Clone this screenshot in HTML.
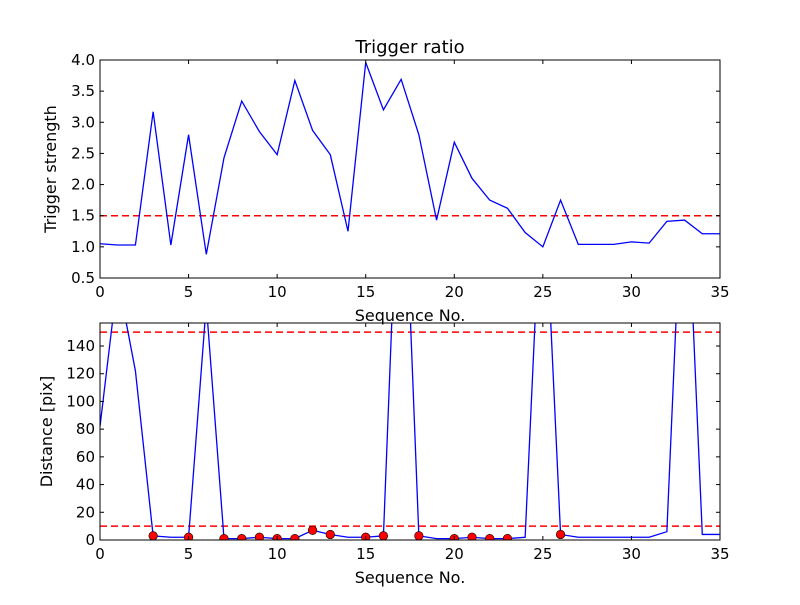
<!DOCTYPE html>
<html><head><meta charset="utf-8"><style>
body{margin:0;background:#fff;}
text{font-family:"DejaVu Sans","Liberation Sans",sans-serif;fill:#000;}
</style></head><body>
<svg id="chart" width="800" height="600" xmlns="http://www.w3.org/2000/svg">
<rect width="800" height="600" fill="#fff"/>
</svg>
<script>
const seq = [0,1,2,3,4,5,6,7,8,9,10,11,12,13,14,15,16,17,18,19,20,21,22,23,24,25,26,27,28,29,30,31,32,33,34,35];
const strength = [1.05,1.03,1.03,3.17,1.03,2.80,0.88,2.43,3.34,2.85,2.48,3.67,2.87,2.48,1.25,3.96,3.20,3.69,2.80,1.43,2.68,2.10,1.75,1.62,1.23,1.00,1.75,1.04,1.04,1.04,1.08,1.06,1.41,1.43,1.21,1.21];
const distance = [82,189,122,3,2,2,170,1,1,2,1,1,7,4,2,2,3,330,3,1,1,2,1,1,2,280,4,2,2,2,2,2,6,300,4,4];
const markerIdx = [3,5,7,8,9,10,11,12,13,15,16,18,20,21,22,23,26];
const strengthThreshold = 1.5;
const distThresholds = [10,150];
const xTicks = [0,5,10,15,20,25,30,35];
const yTicksTop = [0.5,1.0,1.5,2.0,2.5,3.0,3.5,4.0];
const yTicksBot = [0,20,40,60,80,100,120,140];

const svg = document.getElementById('chart');
const NS = 'http://www.w3.org/2000/svg';
function mk(tag, attrs, parent){const e=document.createElementNS(NS,tag);for(const k in attrs)e.setAttribute(k,attrs[k]);(parent||svg).appendChild(e);return e;}

function panel(name, top, bottom, ymin, ymax, yticks, yfmt, ylabel, title){
  const L=100,R=720;
  const g=mk('g',{});
  
  
  const sx=v=>L+(v-0)/(35-0)*(R-L);
  const sy=v=>bottom-(v-ymin)/(ymax-ymin)*(bottom-top);
  const cid='clip-'+name;
  const cp=mk('clipPath',{id:cid},g); mk('rect',{x:L,y:top,width:R-L,height:bottom-top},cp);
  return {g,sx,sy,cid,L,R,top,bottom,yticks,yfmt,ylabel,title};
}
function finish(p){
  const {g,sx,sy,L,R,top,bottom}=p;
  const fr=mk('rect',{x:L,y:top,width:R-L,height:bottom-top,fill:'none',stroke:'#000','stroke-width':1},g);
  
  
  xTicks.forEach(t=>{
    const x=sx(t);
    mk('line',{x1:x,y1:bottom,x2:x,y2:bottom-4,stroke:'#000'},g);
    mk('line',{x1:x,y1:top,x2:x,y2:top+4,stroke:'#000'},g);
    const tx=mk('text',{x:x,y:bottom+19,'text-anchor':'middle','font-size':15},g);
    tx.textContent=t;
    
    
  });
  p.yticks.forEach(t=>{
    const y=sy(t);
    mk('line',{x1:L,y1:y,x2:L+4,y2:y,stroke:'#000'},g);
    mk('line',{x1:R,y1:y,x2:R-4,y2:y,stroke:'#000'},g);
    const tx=mk('text',{x:L-5,y:y+5,'text-anchor':'end','font-size':15},g);
    tx.textContent=p.yfmt(t);
    
    
  });
  const xl=mk('text',{x:(L+R)/2,y:bottom+43,'text-anchor':'middle','font-size':16},g);
  xl.textContent='Sequence No.';
  
  
  const cy=(top+bottom)/2;
  const yl=mk('text',{x:0,y:0,'text-anchor':'middle','font-size':16,transform:`translate(${p.yx},${cy}) rotate(-90)`},g);
  yl.textContent=p.ylabel;
  
  
  if(p.title){
    const tt=mk('text',{x:(L+R)/2,y:top-7,'text-anchor':'middle','font-size':18},g);
    tt.textContent=p.title;
    
    
  }
}

// top panel
const p1=panel('trigger-ratio-panel',60,278,0.5,4.0,yTicksTop,t=>t.toFixed(1),'Trigger strength','Trigger ratio');
p1.yx=56;
const th=mk('line',{x1:p1.L,x2:p1.R,y1:p1.sy(strengthThreshold),y2:p1.sy(strengthThreshold),stroke:'#f00','stroke-width':1.5,'stroke-dasharray':'7,4'},p1.g);


const l1=mk('polyline',{points:seq.map((s,i)=>p1.sx(s)+','+p1.sy(strength[i])).join(' '),fill:'none',stroke:'#00f','stroke-width':1.3,'clip-path':`url(#${p1.cid})`},p1.g);


finish(p1);

// bottom panel
const p2=panel('distance-panel',323,540,0,156.6,yTicksBot,t=>String(t),'Distance [pix]',null);
p2.yx=52;
distThresholds.forEach(v=>{
  const l=mk('line',{x1:p2.L,x2:p2.R,y1:p2.sy(v),y2:p2.sy(v),stroke:'#f00','stroke-width':1.5,'stroke-dasharray':'7,4'},p2.g);
  
  
});
const l2=mk('polyline',{points:seq.map((s,i)=>p2.sx(s)+','+p2.sy(distance[i])).join(' '),fill:'none',stroke:'#00f','stroke-width':1.3,'clip-path':`url(#${p2.cid})`},p2.g);


markerIdx.forEach(i=>{
  const c=mk('circle',{cx:p2.sx(seq[i]),cy:p2.sy(distance[i]),r:4.3,fill:'#f00',stroke:'#000','stroke-width':0.6,'clip-path':`url(#${p2.cid})`},p2.g);
  
  
});
finish(p2);
</script>
</body></html>
